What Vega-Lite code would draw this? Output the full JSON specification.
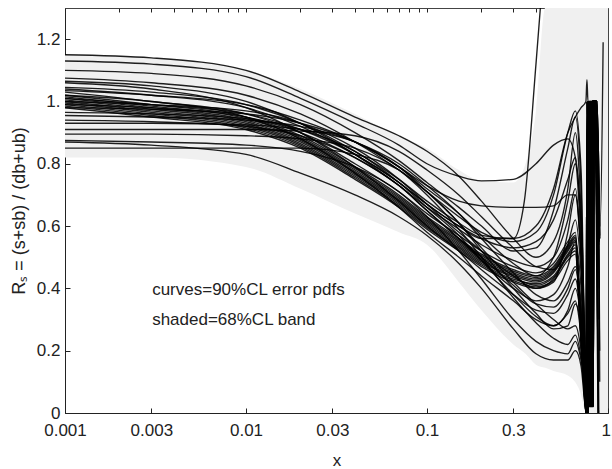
{
"$schema":"https://vega.github.io/schema/vega-lite/v6.json",
"width":543,"height":405,
"padding":{"left":65,"top":8,"right":4,"bottom":56},
"autosize":{"type":"none"},
"config":{"view":{"stroke":"#444","strokeWidth":1},"font":"Liberation Sans","axis":{"grid":false,"labelFont":"Liberation Sans","titleFont":"Liberation Sans","labelColor":"#222","titleColor":"#222","domainColor":"#222","tickColor":"#222","labelFontSize":17,"titleFontSize":17,"titleFontWeight":"normal"}},
"datasets":{
"band":[
{"x":0.001,"lo":0.82,"hi":1.15},{"x":0.003,"lo":0.82,"hi":1.14},{"x":0.01,"lo":0.79,"hi":1.10},{"x":0.02,"lo":0.72,"hi":1.04},{"x":0.04,"lo":0.64,"hi":0.96},{"x":0.07,"lo":0.58,"hi":0.89},{"x":0.1,"lo":0.54,"hi":0.85},{"x":0.15,"lo":0.42,"hi":0.78},{"x":0.2,"lo":0.33,"hi":0.745},{"x":0.3,"lo":0.22,"hi":0.74},{"x":0.35,"lo":0.19,"hi":0.80},{"x":0.4,"lo":0.155,"hi":0.97},{"x":0.45,"lo":0.145,"hi":1.3},{"x":0.5,"lo":0.135,"hi":1.3},{"x":0.6,"lo":0.12,"hi":1.3},{"x":0.7,"lo":0.07,"hi":1.3},{"x":0.76,"lo":0,"hi":1.3},{"x":1,"lo":0,"hi":1.3}
],
"notes":[{"x":0.00303,"y":0.395,"t":"curves=90%CL error pdfs"},{"x":0.00303,"y":0.30,"t":"shaded=68%CL band"}],
"curves":[
{"c":1,"x":0.001,"y":1.00},{"c":1,"x":0.003,"y":0.97},{"c":1,"x":0.01,"y":0.93},{"c":1,"x":0.02,"y":0.87},{"c":1,"x":0.04,"y":0.77},{"c":1,"x":0.07,"y":0.68},{"c":1,"x":0.1,"y":0.61},{"c":1,"x":0.15,"y":0.54},{"c":1,"x":0.2,"y":0.49},{"c":1,"x":0.3,"y":0.44},{"c":1,"x":0.4,"y":0.42},{"c":1,"x":0.5,"y":0.45},{"c":1,"x":0.6,"y":0.52},{"c":1,"x":0.66,"y":0.55},{"c":1,"x":0.71,"y":0.25},{"c":1,"x":0.755,"y":0},{"c":1,"x":0.767,"y":1},{"c":1,"x":0.779,"y":0.02},{"c":1,"x":0.791,"y":1},{"c":1,"x":0.803,"y":0.02},{"c":1,"x":0.815,"y":1},{"c":1,"x":0.845,"y":1},{"c":1,"x":0.875,"y":0.56},
{"c":2,"x":0.001,"y":1.01},{"c":2,"x":0.003,"y":0.98},{"c":2,"x":0.01,"y":0.94},{"c":2,"x":0.02,"y":0.88},{"c":2,"x":0.04,"y":0.78},{"c":2,"x":0.07,"y":0.69},{"c":2,"x":0.1,"y":0.62},{"c":2,"x":0.15,"y":0.55},{"c":2,"x":0.2,"y":0.50},{"c":2,"x":0.3,"y":0.45},{"c":2,"x":0.4,"y":0.43},{"c":2,"x":0.5,"y":0.46},{"c":2,"x":0.6,"y":0.53},{"c":2,"x":0.66,"y":0.56},{"c":2,"x":0.71,"y":0.26},{"c":2,"x":0.76,"y":0},{"c":2,"x":0.772,"y":1},{"c":2,"x":0.784,"y":0.02},{"c":2,"x":0.796,"y":1},{"c":2,"x":0.808,"y":0.02},{"c":2,"x":0.82,"y":1},{"c":2,"x":0.85,"y":1},{"c":2,"x":0.88,"y":0},
{"c":3,"x":0.001,"y":0.99},{"c":3,"x":0.003,"y":0.96},{"c":3,"x":0.01,"y":0.92},{"c":3,"x":0.02,"y":0.86},{"c":3,"x":0.04,"y":0.76},{"c":3,"x":0.07,"y":0.67},{"c":3,"x":0.1,"y":0.60},{"c":3,"x":0.15,"y":0.53},{"c":3,"x":0.2,"y":0.48},{"c":3,"x":0.3,"y":0.43},{"c":3,"x":0.4,"y":0.415},{"c":3,"x":0.5,"y":0.44},{"c":3,"x":0.6,"y":0.51},{"c":3,"x":0.66,"y":0.54},{"c":3,"x":0.71,"y":0.24},{"c":3,"x":0.765,"y":0},{"c":3,"x":0.777,"y":1},{"c":3,"x":0.789,"y":0.02},{"c":3,"x":0.801,"y":1},{"c":3,"x":0.813,"y":0.02},{"c":3,"x":0.825,"y":1},{"c":3,"x":0.855,"y":1},{"c":3,"x":0.885,"y":0.52},
{"c":4,"x":0.001,"y":1.02},{"c":4,"x":0.003,"y":0.99},{"c":4,"x":0.01,"y":0.95},{"c":4,"x":0.02,"y":0.89},{"c":4,"x":0.04,"y":0.79},{"c":4,"x":0.07,"y":0.70},{"c":4,"x":0.1,"y":0.63},{"c":4,"x":0.15,"y":0.56},{"c":4,"x":0.2,"y":0.51},{"c":4,"x":0.3,"y":0.46},{"c":4,"x":0.4,"y":0.44},{"c":4,"x":0.5,"y":0.47},{"c":4,"x":0.6,"y":0.54},{"c":4,"x":0.66,"y":0.57},{"c":4,"x":0.71,"y":0.27},{"c":4,"x":0.77,"y":0},{"c":4,"x":0.782,"y":1},{"c":4,"x":0.794,"y":0.02},{"c":4,"x":0.806,"y":1},{"c":4,"x":0.818,"y":0.02},{"c":4,"x":0.83,"y":1},{"c":4,"x":0.86,"y":1},{"c":4,"x":0.89,"y":0.58},
{"c":5,"x":0.001,"y":0.98},{"c":5,"x":0.003,"y":0.95},{"c":5,"x":0.01,"y":0.91},{"c":5,"x":0.02,"y":0.85},{"c":5,"x":0.04,"y":0.75},{"c":5,"x":0.07,"y":0.66},{"c":5,"x":0.1,"y":0.59},{"c":5,"x":0.15,"y":0.52},{"c":5,"x":0.2,"y":0.47},{"c":5,"x":0.3,"y":0.42},{"c":5,"x":0.4,"y":0.40},{"c":5,"x":0.5,"y":0.43},{"c":5,"x":0.6,"y":0.50},{"c":5,"x":0.66,"y":0.52},{"c":5,"x":0.71,"y":0.23},{"c":5,"x":0.775,"y":0},{"c":5,"x":0.787,"y":1},{"c":5,"x":0.799,"y":0.02},{"c":5,"x":0.811,"y":1},{"c":5,"x":0.823,"y":0.02},{"c":5,"x":0.835,"y":1},{"c":5,"x":0.865,"y":1},{"c":5,"x":0.895,"y":0.3},
{"c":6,"x":0.001,"y":1.005},{"c":6,"x":0.003,"y":0.975},{"c":6,"x":0.01,"y":0.935},{"c":6,"x":0.02,"y":0.875},{"c":6,"x":0.04,"y":0.775},{"c":6,"x":0.07,"y":0.685},{"c":6,"x":0.1,"y":0.615},{"c":6,"x":0.15,"y":0.545},{"c":6,"x":0.2,"y":0.495},{"c":6,"x":0.3,"y":0.445},{"c":6,"x":0.4,"y":0.425},{"c":6,"x":0.5,"y":0.455},{"c":6,"x":0.6,"y":0.525},{"c":6,"x":0.66,"y":0.555},{"c":6,"x":0.71,"y":0.25},{"c":6,"x":0.78,"y":0},{"c":6,"x":0.792,"y":1},{"c":6,"x":0.804,"y":0.02},{"c":6,"x":0.816,"y":1},{"c":6,"x":0.828,"y":0.02},{"c":6,"x":0.84,"y":1},{"c":6,"x":0.87,"y":1},{"c":6,"x":0.90,"y":0.56},
{"c":7,"x":0.001,"y":1.03},{"c":7,"x":0.003,"y":1.00},{"c":7,"x":0.01,"y":0.96},{"c":7,"x":0.02,"y":0.90},{"c":7,"x":0.04,"y":0.80},{"c":7,"x":0.07,"y":0.71},{"c":7,"x":0.1,"y":0.64},{"c":7,"x":0.15,"y":0.57},{"c":7,"x":0.2,"y":0.52},{"c":7,"x":0.3,"y":0.47},{"c":7,"x":0.4,"y":0.45},{"c":7,"x":0.5,"y":0.48},{"c":7,"x":0.6,"y":0.55},{"c":7,"x":0.66,"y":0.58},{"c":7,"x":0.71,"y":0.28},{"c":7,"x":0.755,"y":0},{"c":7,"x":0.767,"y":1},{"c":7,"x":0.779,"y":0.02},{"c":7,"x":0.791,"y":1},{"c":7,"x":0.803,"y":0.02},{"c":7,"x":0.815,"y":1},{"c":7,"x":0.845,"y":1},{"c":7,"x":0.875,"y":0.45},
{"c":8,"x":0.001,"y":0.995},{"c":8,"x":0.003,"y":0.965},{"c":8,"x":0.01,"y":0.925},{"c":8,"x":0.02,"y":0.865},{"c":8,"x":0.04,"y":0.765},{"c":8,"x":0.07,"y":0.675},{"c":8,"x":0.1,"y":0.605},{"c":8,"x":0.15,"y":0.535},{"c":8,"x":0.2,"y":0.485},{"c":8,"x":0.3,"y":0.435},{"c":8,"x":0.4,"y":0.41},{"c":8,"x":0.5,"y":0.435},{"c":8,"x":0.6,"y":0.505},{"c":8,"x":0.66,"y":0.53},{"c":8,"x":0.71,"y":0.24},{"c":8,"x":0.76,"y":0},{"c":8,"x":0.772,"y":1},{"c":8,"x":0.784,"y":0.02},{"c":8,"x":0.796,"y":1},{"c":8,"x":0.808,"y":0.02},{"c":8,"x":0.82,"y":1},{"c":8,"x":0.85,"y":1},{"c":8,"x":0.88,"y":0.58},
{"c":9,"x":0.001,"y":1.015},{"c":9,"x":0.003,"y":0.985},{"c":9,"x":0.01,"y":0.945},{"c":9,"x":0.02,"y":0.885},{"c":9,"x":0.04,"y":0.785},{"c":9,"x":0.07,"y":0.695},{"c":9,"x":0.1,"y":0.625},{"c":9,"x":0.15,"y":0.555},{"c":9,"x":0.2,"y":0.505},{"c":9,"x":0.3,"y":0.455},{"c":9,"x":0.4,"y":0.435},{"c":9,"x":0.5,"y":0.465},{"c":9,"x":0.6,"y":0.535},{"c":9,"x":0.66,"y":0.565},{"c":9,"x":0.71,"y":0.26},{"c":9,"x":0.765,"y":0},{"c":9,"x":0.777,"y":1},{"c":9,"x":0.789,"y":0.02},{"c":9,"x":0.801,"y":1},{"c":9,"x":0.813,"y":0.02},{"c":9,"x":0.825,"y":1},{"c":9,"x":0.855,"y":1},{"c":9,"x":0.885,"y":0},
{"c":10,"x":0.001,"y":0.985},{"c":10,"x":0.003,"y":0.955},{"c":10,"x":0.01,"y":0.915},{"c":10,"x":0.02,"y":0.855},{"c":10,"x":0.04,"y":0.755},{"c":10,"x":0.07,"y":0.665},{"c":10,"x":0.1,"y":0.595},{"c":10,"x":0.15,"y":0.525},{"c":10,"x":0.2,"y":0.475},{"c":10,"x":0.3,"y":0.425},{"c":10,"x":0.4,"y":0.405},{"c":10,"x":0.5,"y":0.425},{"c":10,"x":0.6,"y":0.49},{"c":10,"x":0.66,"y":0.51},{"c":10,"x":0.71,"y":0.22},{"c":10,"x":0.77,"y":0},{"c":10,"x":0.782,"y":1},{"c":10,"x":0.794,"y":0.02},{"c":10,"x":0.806,"y":1},{"c":10,"x":0.818,"y":0.02},{"c":10,"x":0.83,"y":1},{"c":10,"x":0.86,"y":1},{"c":10,"x":0.89,"y":0.55},
{"c":11,"x":0.001,"y":1.15},{"c":11,"x":0.003,"y":1.14},{"c":11,"x":0.01,"y":1.10},{"c":11,"x":0.02,"y":1.03},{"c":11,"x":0.04,"y":0.95},{"c":11,"x":0.07,"y":0.89},{"c":11,"x":0.1,"y":0.84},{"c":11,"x":0.15,"y":0.76},{"c":11,"x":0.2,"y":0.68},{"c":11,"x":0.3,"y":0.56},{"c":11,"x":0.4,"y":0.50},{"c":11,"x":0.5,"y":0.55},{"c":11,"x":0.6,"y":0.72},{"c":11,"x":0.66,"y":0.90},{"c":11,"x":0.71,"y":0.65},{"c":11,"x":0.775,"y":0},{"c":11,"x":0.787,"y":1},{"c":11,"x":0.799,"y":0.02},{"c":11,"x":0.811,"y":1},{"c":11,"x":0.823,"y":0.02},{"c":11,"x":0.835,"y":1},{"c":11,"x":0.865,"y":1},{"c":11,"x":0.895,"y":0.57},
{"c":12,"x":0.001,"y":1.13},{"c":12,"x":0.003,"y":1.12},{"c":12,"x":0.01,"y":1.08},{"c":12,"x":0.02,"y":1.01},{"c":12,"x":0.04,"y":0.93},{"c":12,"x":0.07,"y":0.86},{"c":12,"x":0.1,"y":0.80},{"c":12,"x":0.15,"y":0.76},{"c":12,"x":0.2,"y":0.745},{"c":12,"x":0.3,"y":0.75},{"c":12,"x":0.4,"y":0.80},{"c":12,"x":0.5,"y":0.86},{"c":12,"x":0.6,"y":0.88},{"c":12,"x":0.66,"y":0.82},{"c":12,"x":0.71,"y":0.55},{"c":12,"x":0.78,"y":0},{"c":12,"x":0.792,"y":1},{"c":12,"x":0.804,"y":0.02},{"c":12,"x":0.816,"y":1},{"c":12,"x":0.828,"y":0.02},{"c":12,"x":0.84,"y":1},{"c":12,"x":0.87,"y":1},{"c":12,"x":0.90,"y":0.2},
{"c":13,"x":0.001,"y":1.10},{"c":13,"x":0.003,"y":1.09},{"c":13,"x":0.01,"y":1.05},{"c":13,"x":0.02,"y":0.99},{"c":13,"x":0.04,"y":0.90},{"c":13,"x":0.07,"y":0.81},{"c":13,"x":0.1,"y":0.74},{"c":13,"x":0.15,"y":0.66},{"c":13,"x":0.2,"y":0.60},{"c":13,"x":0.3,"y":0.52},{"c":13,"x":0.4,"y":0.53},{"c":13,"x":0.5,"y":0.65},{"c":13,"x":0.6,"y":0.85},{"c":13,"x":0.66,"y":0.95},{"c":13,"x":0.71,"y":0.72},{"c":13,"x":0.755,"y":0},{"c":13,"x":0.767,"y":1},{"c":13,"x":0.779,"y":0.02},{"c":13,"x":0.791,"y":1},{"c":13,"x":0.803,"y":0.02},{"c":13,"x":0.815,"y":1},{"c":13,"x":0.845,"y":1},{"c":13,"x":0.875,"y":0.56},
{"c":14,"x":0.001,"y":1.075},{"c":14,"x":0.003,"y":1.06},{"c":14,"x":0.01,"y":1.02},{"c":14,"x":0.02,"y":0.96},{"c":14,"x":0.04,"y":0.87},{"c":14,"x":0.07,"y":0.78},{"c":14,"x":0.1,"y":0.71},{"c":14,"x":0.15,"y":0.63},{"c":14,"x":0.2,"y":0.58},{"c":14,"x":0.3,"y":0.55},{"c":14,"x":0.4,"y":0.58},{"c":14,"x":0.5,"y":0.70},{"c":14,"x":0.6,"y":0.90},{"c":14,"x":0.66,"y":0.97},{"c":14,"x":0.71,"y":0.78},{"c":14,"x":0.76,"y":0},{"c":14,"x":0.772,"y":1},{"c":14,"x":0.784,"y":0.02},{"c":14,"x":0.796,"y":1},{"c":14,"x":0.808,"y":0.02},{"c":14,"x":0.82,"y":1},{"c":14,"x":0.85,"y":1},{"c":14,"x":0.88,"y":0.6},
{"c":15,"x":0.001,"y":1.065},{"c":15,"x":0.003,"y":1.05},{"c":15,"x":0.01,"y":1.00},{"c":15,"x":0.02,"y":0.93},{"c":15,"x":0.04,"y":0.83},{"c":15,"x":0.07,"y":0.73},{"c":15,"x":0.1,"y":0.66},{"c":15,"x":0.15,"y":0.59},{"c":15,"x":0.2,"y":0.54},{"c":15,"x":0.3,"y":0.49},{"c":15,"x":0.4,"y":0.47},{"c":15,"x":0.5,"y":0.50},{"c":15,"x":0.6,"y":0.62},{"c":15,"x":0.66,"y":0.72},{"c":15,"x":0.71,"y":0.50},{"c":15,"x":0.765,"y":0},{"c":15,"x":0.777,"y":1},{"c":15,"x":0.789,"y":0.02},{"c":15,"x":0.801,"y":1},{"c":15,"x":0.813,"y":0.02},{"c":15,"x":0.825,"y":1},{"c":15,"x":0.855,"y":1},{"c":15,"x":0.885,"y":0},
{"c":16,"x":0.001,"y":1.06},{"c":16,"x":0.003,"y":1.04},{"c":16,"x":0.01,"y":0.98},{"c":16,"x":0.02,"y":0.90},{"c":16,"x":0.04,"y":0.79},{"c":16,"x":0.07,"y":0.68},{"c":16,"x":0.1,"y":0.60},{"c":16,"x":0.15,"y":0.52},{"c":16,"x":0.2,"y":0.46},{"c":16,"x":0.3,"y":0.38},{"c":16,"x":0.4,"y":0.33},{"c":16,"x":0.5,"y":0.32},{"c":16,"x":0.6,"y":0.38},{"c":16,"x":0.66,"y":0.43},{"c":16,"x":0.71,"y":0.30},{"c":16,"x":0.77,"y":0},{"c":16,"x":0.782,"y":1},{"c":16,"x":0.794,"y":0.02},{"c":16,"x":0.806,"y":1},{"c":16,"x":0.818,"y":0.02},{"c":16,"x":0.83,"y":1},{"c":16,"x":0.86,"y":1},{"c":16,"x":0.89,"y":0.54},
{"c":17,"x":0.001,"y":1.035},{"c":17,"x":0.003,"y":1.02},{"c":17,"x":0.01,"y":0.99},{"c":17,"x":0.02,"y":0.94},{"c":17,"x":0.04,"y":0.87},{"c":17,"x":0.07,"y":0.79},{"c":17,"x":0.1,"y":0.73},{"c":17,"x":0.15,"y":0.68},{"c":17,"x":0.2,"y":0.665},{"c":17,"x":0.3,"y":0.66},{"c":17,"x":0.4,"y":0.66},{"c":17,"x":0.5,"y":0.665},{"c":17,"x":0.6,"y":0.70},{"c":17,"x":0.66,"y":0.70},{"c":17,"x":0.71,"y":0.50},{"c":17,"x":0.775,"y":0},{"c":17,"x":0.787,"y":1},{"c":17,"x":0.799,"y":0.02},{"c":17,"x":0.811,"y":1},{"c":17,"x":0.823,"y":0.02},{"c":17,"x":0.835,"y":1},{"c":17,"x":0.865,"y":1},{"c":17,"x":0.895,"y":0.57},
{"c":18,"x":0.001,"y":1.02},{"c":18,"x":0.003,"y":1.00},{"c":18,"x":0.01,"y":0.95},{"c":18,"x":0.02,"y":0.88},{"c":18,"x":0.04,"y":0.77},{"c":18,"x":0.07,"y":0.66},{"c":18,"x":0.1,"y":0.58},{"c":18,"x":0.15,"y":0.50},{"c":18,"x":0.2,"y":0.44},{"c":18,"x":0.3,"y":0.36},{"c":18,"x":0.4,"y":0.30},{"c":18,"x":0.5,"y":0.28},{"c":18,"x":0.6,"y":0.32},{"c":18,"x":0.66,"y":0.36},{"c":18,"x":0.71,"y":0.25},{"c":18,"x":0.78,"y":0},{"c":18,"x":0.792,"y":1},{"c":18,"x":0.804,"y":0.02},{"c":18,"x":0.816,"y":1},{"c":18,"x":0.828,"y":0.02},{"c":18,"x":0.84,"y":1},{"c":18,"x":0.87,"y":1},{"c":18,"x":0.90,"y":0.1},
{"c":19,"x":0.001,"y":0.98},{"c":19,"x":0.003,"y":0.975},{"c":19,"x":0.01,"y":0.96},{"c":19,"x":0.02,"y":0.93},{"c":19,"x":0.04,"y":0.87},{"c":19,"x":0.07,"y":0.79},{"c":19,"x":0.1,"y":0.72},{"c":19,"x":0.15,"y":0.64},{"c":19,"x":0.2,"y":0.57},{"c":19,"x":0.3,"y":0.48},{"c":19,"x":0.4,"y":0.44},{"c":19,"x":0.5,"y":0.50},{"c":19,"x":0.6,"y":0.68},{"c":19,"x":0.66,"y":0.80},{"c":19,"x":0.71,"y":0.60},{"c":19,"x":0.755,"y":0},{"c":19,"x":0.767,"y":1},{"c":19,"x":0.779,"y":0.02},{"c":19,"x":0.791,"y":1},{"c":19,"x":0.803,"y":0.02},{"c":19,"x":0.815,"y":1},{"c":19,"x":0.845,"y":1},{"c":19,"x":0.875,"y":0.56},
{"c":20,"x":0.001,"y":0.955},{"c":20,"x":0.003,"y":0.95},{"c":20,"x":0.01,"y":0.94},{"c":20,"x":0.02,"y":0.92},{"c":20,"x":0.04,"y":0.87},{"c":20,"x":0.07,"y":0.80},{"c":20,"x":0.1,"y":0.73},{"c":20,"x":0.15,"y":0.64},{"c":20,"x":0.2,"y":0.56},{"c":20,"x":0.3,"y":0.45},{"c":20,"x":0.4,"y":0.38},{"c":20,"x":0.5,"y":0.36},{"c":20,"x":0.6,"y":0.42},{"c":20,"x":0.66,"y":0.47},{"c":20,"x":0.71,"y":0.35},{"c":20,"x":0.76,"y":0},{"c":20,"x":0.772,"y":1},{"c":20,"x":0.784,"y":0.02},{"c":20,"x":0.796,"y":1},{"c":20,"x":0.808,"y":0.02},{"c":20,"x":0.82,"y":1},{"c":20,"x":0.85,"y":1},{"c":20,"x":0.88,"y":0.5},
{"c":21,"x":0.001,"y":0.93},{"c":21,"x":0.003,"y":0.93},{"c":21,"x":0.01,"y":0.925},{"c":21,"x":0.02,"y":0.91},{"c":21,"x":0.04,"y":0.87},{"c":21,"x":0.07,"y":0.79},{"c":21,"x":0.1,"y":0.71},{"c":21,"x":0.15,"y":0.61},{"c":21,"x":0.2,"y":0.53},{"c":21,"x":0.3,"y":0.42},{"c":21,"x":0.4,"y":0.35},{"c":21,"x":0.5,"y":0.30},{"c":21,"x":0.6,"y":0.27},{"c":21,"x":0.66,"y":0.28},{"c":21,"x":0.71,"y":0.20},{"c":21,"x":0.765,"y":0},{"c":21,"x":0.777,"y":1},{"c":21,"x":0.789,"y":0.02},{"c":21,"x":0.801,"y":1},{"c":21,"x":0.813,"y":0.02},{"c":21,"x":0.825,"y":1},{"c":21,"x":0.855,"y":1},{"c":21,"x":0.885,"y":0},
{"c":22,"x":0.001,"y":0.91},{"c":22,"x":0.003,"y":0.91},{"c":22,"x":0.01,"y":0.91},{"c":22,"x":0.02,"y":0.905},{"c":22,"x":0.04,"y":0.89},{"c":22,"x":0.07,"y":0.84},{"c":22,"x":0.1,"y":0.78},{"c":22,"x":0.15,"y":0.70},{"c":22,"x":0.2,"y":0.63},{"c":22,"x":0.3,"y":0.53},{"c":22,"x":0.4,"y":0.47},{"c":22,"x":0.5,"y":0.46},{"c":22,"x":0.6,"y":0.54},{"c":22,"x":0.66,"y":0.62},{"c":22,"x":0.71,"y":0.45},{"c":22,"x":0.77,"y":0},{"c":22,"x":0.782,"y":1},{"c":22,"x":0.794,"y":0.02},{"c":22,"x":0.806,"y":1},{"c":22,"x":0.818,"y":0.02},{"c":22,"x":0.83,"y":1},{"c":22,"x":0.86,"y":1},{"c":22,"x":0.89,"y":0.58},
{"c":23,"x":0.001,"y":0.895},{"c":23,"x":0.003,"y":0.895},{"c":23,"x":0.01,"y":0.89},{"c":23,"x":0.02,"y":0.88},{"c":23,"x":0.04,"y":0.85},{"c":23,"x":0.07,"y":0.78},{"c":23,"x":0.1,"y":0.70},{"c":23,"x":0.15,"y":0.59},{"c":23,"x":0.2,"y":0.50},{"c":23,"x":0.3,"y":0.37},{"c":23,"x":0.4,"y":0.29},{"c":23,"x":0.5,"y":0.24},{"c":23,"x":0.6,"y":0.22},{"c":23,"x":0.66,"y":0.25},{"c":23,"x":0.71,"y":0.18},{"c":23,"x":0.775,"y":0},{"c":23,"x":0.787,"y":1},{"c":23,"x":0.799,"y":0.02},{"c":23,"x":0.811,"y":1},{"c":23,"x":0.823,"y":0.02},{"c":23,"x":0.835,"y":1},{"c":23,"x":0.865,"y":1},{"c":23,"x":0.895,"y":0.4},
{"c":24,"x":0.001,"y":0.875},{"c":24,"x":0.003,"y":0.87},{"c":24,"x":0.01,"y":0.86},{"c":24,"x":0.02,"y":0.84},{"c":24,"x":0.04,"y":0.79},{"c":24,"x":0.07,"y":0.71},{"c":24,"x":0.1,"y":0.63},{"c":24,"x":0.15,"y":0.52},{"c":24,"x":0.2,"y":0.43},{"c":24,"x":0.3,"y":0.30},{"c":24,"x":0.4,"y":0.23},{"c":24,"x":0.5,"y":0.20},{"c":24,"x":0.6,"y":0.19},{"c":24,"x":0.66,"y":0.23},{"c":24,"x":0.71,"y":0.17},{"c":24,"x":0.78,"y":0},{"c":24,"x":0.792,"y":1},{"c":24,"x":0.804,"y":0.02},{"c":24,"x":0.816,"y":1},{"c":24,"x":0.828,"y":0.02},{"c":24,"x":0.84,"y":1},{"c":24,"x":0.87,"y":1},{"c":24,"x":0.90,"y":0.56},
{"c":25,"x":0.001,"y":0.85},{"c":25,"x":0.003,"y":0.85},{"c":25,"x":0.01,"y":0.85},{"c":25,"x":0.02,"y":0.85},{"c":25,"x":0.04,"y":0.83},{"c":25,"x":0.07,"y":0.78},{"c":25,"x":0.1,"y":0.71},{"c":25,"x":0.15,"y":0.61},{"c":25,"x":0.2,"y":0.52},{"c":25,"x":0.3,"y":0.40},{"c":25,"x":0.4,"y":0.32},{"c":25,"x":0.5,"y":0.27},{"c":25,"x":0.6,"y":0.28},{"c":25,"x":0.66,"y":0.35},{"c":25,"x":0.71,"y":0.28},{"c":25,"x":0.755,"y":0},{"c":25,"x":0.767,"y":1},{"c":25,"x":0.779,"y":0.02},{"c":25,"x":0.791,"y":1},{"c":25,"x":0.803,"y":0.02},{"c":25,"x":0.815,"y":1},{"c":25,"x":0.845,"y":1},{"c":25,"x":0.875,"y":0.58},
{"c":26,"x":0.001,"y":0.87},{"c":26,"x":0.003,"y":0.86},{"c":26,"x":0.01,"y":0.83},{"c":26,"x":0.02,"y":0.77},{"c":26,"x":0.04,"y":0.70},{"c":26,"x":0.07,"y":0.63},{"c":26,"x":0.1,"y":0.57},{"c":26,"x":0.15,"y":0.48},{"c":26,"x":0.2,"y":0.40},{"c":26,"x":0.3,"y":0.27},{"c":26,"x":0.4,"y":0.19},{"c":26,"x":0.5,"y":0.17},{"c":26,"x":0.6,"y":0.17},{"c":26,"x":0.66,"y":0.20},{"c":26,"x":0.71,"y":0.15},{"c":26,"x":0.76,"y":0},{"c":26,"x":0.772,"y":1},{"c":26,"x":0.784,"y":0.02},{"c":26,"x":0.796,"y":1},{"c":26,"x":0.808,"y":0.02},{"c":26,"x":0.82,"y":1},{"c":26,"x":0.85,"y":1},{"c":26,"x":0.88,"y":0.3},
{"c":27,"x":0.001,"y":1.00},{"c":27,"x":0.003,"y":0.99},{"c":27,"x":0.01,"y":0.97},{"c":27,"x":0.02,"y":0.93},{"c":27,"x":0.04,"y":0.85},{"c":27,"x":0.07,"y":0.75},{"c":27,"x":0.1,"y":0.67},{"c":27,"x":0.15,"y":0.58},{"c":27,"x":0.2,"y":0.52},{"c":27,"x":0.3,"y":0.44},{"c":27,"x":0.4,"y":0.40},{"c":27,"x":0.5,"y":0.42},{"c":27,"x":0.6,"y":0.58},{"c":27,"x":0.66,"y":0.70},{"c":27,"x":0.71,"y":0.50},{"c":27,"x":0.765,"y":0},{"c":27,"x":0.777,"y":1},{"c":27,"x":0.789,"y":0.02},{"c":27,"x":0.801,"y":1},{"c":27,"x":0.813,"y":0.02},{"c":27,"x":0.825,"y":1},{"c":27,"x":0.855,"y":1},{"c":27,"x":0.885,"y":0.56},
{"c":28,"x":0.001,"y":0.99},{"c":28,"x":0.003,"y":0.98},{"c":28,"x":0.01,"y":0.95},{"c":28,"x":0.02,"y":0.90},{"c":28,"x":0.04,"y":0.82},{"c":28,"x":0.07,"y":0.73},{"c":28,"x":0.1,"y":0.65},{"c":28,"x":0.15,"y":0.56},{"c":28,"x":0.2,"y":0.50},{"c":28,"x":0.3,"y":0.41},{"c":28,"x":0.4,"y":0.35},{"c":28,"x":0.5,"y":0.34},{"c":28,"x":0.6,"y":0.40},{"c":28,"x":0.66,"y":0.46},{"c":28,"x":0.71,"y":0.33},{"c":28,"x":0.77,"y":0},{"c":28,"x":0.782,"y":1},{"c":28,"x":0.794,"y":0.02},{"c":28,"x":0.806,"y":1},{"c":28,"x":0.818,"y":0.02},{"c":28,"x":0.83,"y":1},{"c":28,"x":0.86,"y":1},{"c":28,"x":0.89,"y":0},
{"c":29,"x":0.001,"y":1.01},{"c":29,"x":0.003,"y":0.99},{"c":29,"x":0.01,"y":0.96},{"c":29,"x":0.02,"y":0.91},{"c":29,"x":0.04,"y":0.83},{"c":29,"x":0.07,"y":0.74},{"c":29,"x":0.1,"y":0.67},{"c":29,"x":0.15,"y":0.60},{"c":29,"x":0.2,"y":0.56},{"c":29,"x":0.3,"y":0.53},{"c":29,"x":0.4,"y":0.55},{"c":29,"x":0.5,"y":0.62},{"c":29,"x":0.6,"y":0.75},{"c":29,"x":0.66,"y":0.82},{"c":29,"x":0.71,"y":0.60},{"c":29,"x":0.775,"y":0},{"c":29,"x":0.787,"y":1},{"c":29,"x":0.799,"y":0.02},{"c":29,"x":0.811,"y":1},{"c":29,"x":0.823,"y":0.02},{"c":29,"x":0.835,"y":1},{"c":29,"x":0.865,"y":1},{"c":29,"x":0.895,"y":0.55},
{"c":30,"x":0.001,"y":0.965},{"c":30,"x":0.003,"y":0.96},{"c":30,"x":0.01,"y":0.945},{"c":30,"x":0.02,"y":0.91},{"c":30,"x":0.04,"y":0.84},{"c":30,"x":0.07,"y":0.74},{"c":30,"x":0.1,"y":0.66},{"c":30,"x":0.15,"y":0.57},{"c":30,"x":0.2,"y":0.49},{"c":30,"x":0.3,"y":0.38},{"c":30,"x":0.4,"y":0.31},{"c":30,"x":0.5,"y":0.28},{"c":30,"x":0.6,"y":0.33},{"c":30,"x":0.66,"y":0.40},{"c":30,"x":0.71,"y":0.30},{"c":30,"x":0.78,"y":0},{"c":30,"x":0.792,"y":1},{"c":30,"x":0.804,"y":0.02},{"c":30,"x":0.816,"y":1},{"c":30,"x":0.828,"y":0.02},{"c":30,"x":0.84,"y":1},{"c":30,"x":0.87,"y":1},{"c":30,"x":0.90,"y":0.57},
{"c":31,"x":0.001,"y":1.04},{"c":31,"x":0.003,"y":1.02},{"c":31,"x":0.01,"y":0.98},{"c":31,"x":0.02,"y":0.92},{"c":31,"x":0.04,"y":0.83},{"c":31,"x":0.07,"y":0.74},{"c":31,"x":0.1,"y":0.67},{"c":31,"x":0.15,"y":0.60},{"c":31,"x":0.2,"y":0.56},{"c":31,"x":0.3,"y":0.56},{"c":31,"x":0.345,"y":0.68},{"c":31,"x":0.4,"y":1.12},{"c":31,"x":0.45,"y":1.5},
{"c":32,"x":0.001,"y":1.045},{"c":32,"x":0.003,"y":1.03},{"c":32,"x":0.01,"y":0.99},{"c":32,"x":0.02,"y":0.93},{"c":32,"x":0.04,"y":0.84},{"c":32,"x":0.07,"y":0.75},{"c":32,"x":0.1,"y":0.68},{"c":32,"x":0.15,"y":0.61},{"c":32,"x":0.2,"y":0.57},{"c":32,"x":0.3,"y":0.56},{"c":32,"x":0.4,"y":0.60},{"c":32,"x":0.5,"y":0.72},{"c":32,"x":0.6,"y":0.90},{"c":32,"x":0.66,"y":0.95},{"c":32,"x":0.71,"y":0.98},{"c":32,"x":0.755,"y":1.0},{"c":32,"x":0.765,"y":1.07},{"c":32,"x":0.775,"y":1.0},{"c":32,"x":0.856,"y":1},{"c":32,"x":0.89,"y":0.56},
{"c":33,"x":0.001,"y":0.94},{"c":33,"x":0.003,"y":0.935},{"c":33,"x":0.01,"y":0.92},{"c":33,"x":0.02,"y":0.89},{"c":33,"x":0.04,"y":0.82},{"c":33,"x":0.07,"y":0.73},{"c":33,"x":0.1,"y":0.65},{"c":33,"x":0.15,"y":0.56},{"c":33,"x":0.2,"y":0.49},{"c":33,"x":0.3,"y":0.40},{"c":33,"x":0.4,"y":0.36},{"c":33,"x":0.5,"y":0.38},{"c":33,"x":0.6,"y":0.47},{"c":33,"x":0.66,"y":0.55},{"c":33,"x":0.71,"y":0.40},{"c":33,"x":0.765,"y":0},{"c":33,"x":0.79,"y":1},{"c":33,"x":0.856,"y":1},{"c":33,"x":0.905,"y":0.6},{"c":33,"x":0.94,"y":1.19}
]
},
"resolve":{"axis":{"x":"independent"}},
"layer":[
{"data":{"name":"band"},"mark":{"type":"area","color":"#f0f0f0","interpolate":"monotone","clip":true},
 "encoding":{
  "x":{"field":"x","type":"quantitative","scale":{"type":"log","domain":[0.001,1]},"axis":{"orient":"bottom","values":[0.001,0.003,0.01,0.03,0.1,0.3,1],"labelExpr":"datum.value == 1 ? '1.' : '' + datum.value","tickSize":-5,"labelPadding":14,"labelFlush":false,"labelOverlap":false,"title":"x","titlePadding":14}},
  "y":{"field":"lo","type":"quantitative","scale":{"domain":[0,1.3]},"axis":{"values":[0,0.2,0.4,0.6,0.8,1,1.2],"labelExpr":"datum.value == 1 ? '1.' : datum.value == 0 ? '0' : format(datum.value, '.1f')","tickSize":-5,"labelPadding":10,"title":"Rₛ = (s+sb) / (db+ub)","titleFontSize":18,"titlePadding":8}},
  "y2":{"field":"hi"}}},
{"data":{"name":"curves"},"mark":{"type":"line","interpolate":"monotone","clip":true,"color":"#000","strokeWidth":1.35,"opacity":0.88},
 "encoding":{
  "x":{"field":"x","type":"quantitative","scale":{"type":"log","domain":[0.001,1]},"axis":{"orient":"top","values":[0.002,0.003,0.004,0.005,0.006,0.007,0.008,0.009,0.01,0.02,0.03,0.04,0.05,0.06,0.07,0.08,0.09,0.1,0.2,0.3,0.4,0.5,0.6,0.7,0.8,0.9],"labels":false,"tickSize":-4,"title":null,"domainColor":"#444"}},
  "y":{"field":"y","type":"quantitative","axis":{"values":[0,0.2,0.4,0.6,0.8,1,1.2],"labelExpr":"datum.value == 1 ? '1.' : datum.value == 0 ? '0' : format(datum.value, '.1f')","tickSize":-5,"labelPadding":10,"title":"Rₛ = (s+sb) / (db+ub)","titleFontSize":18,"titlePadding":8}},
  "detail":{"field":"c","type":"nominal"}}},
{"data":{"name":"notes"},"mark":{"type":"text","align":"left","baseline":"middle","fontSize":17,"color":"#222","font":"Liberation Sans"},
 "encoding":{
  "x":{"field":"x","type":"quantitative","axis":null},
  "y":{"field":"y","type":"quantitative","axis":{"values":[0,0.2,0.4,0.6,0.8,1,1.2],"labelExpr":"datum.value == 1 ? '1.' : datum.value == 0 ? '0' : format(datum.value, '.1f')","tickSize":-5,"labelPadding":10,"title":"Rₛ = (s+sb) / (db+ub)","titleFontSize":18,"titlePadding":8}},
  "text":{"field":"t"}}}
]
}
